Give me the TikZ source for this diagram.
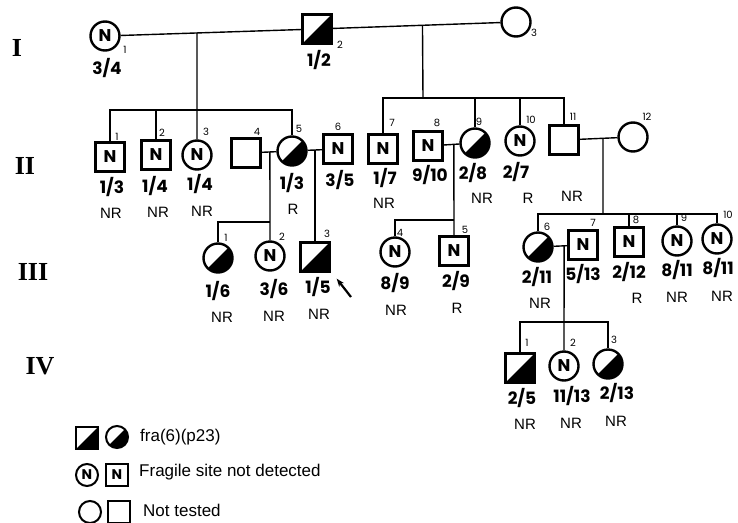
\documentclass[tikz,border=0pt]{standalone}
\usepackage{fontspec}
\setmainfont{Liberation Sans}
\newfontfamily\pedfont{Poppins}
\newfontfamily\genfont{Liberation Serif}
\usetikzlibrary{calc,arrows.meta}

\tikzset{
  person/.style={draw, line width=2.4pt, inner sep=0pt, font=\pedfont\bfseries\fontsize{17}{17}\selectfont},
  male/.style={person, rectangle, minimum size=29pt},
  female/.style={person, circle, minimum size=29pt},
  affected/.style={path picture={\fill (path picture bounding box.south west) -- (path picture bounding box.south east) -- (path picture bounding box.north east) -- cycle;}},
  keysym/.style={line width=2pt, minimum size=22pt, font=\pedfont\bfseries\fontsize{14}{14}\selectfont},
  idnum/.style={inner sep=0pt, font=\pedfont\fontsize{10}{10}\selectfont},
  ratio/.style={inner sep=0pt, font=\pedfont\bfseries\fontsize{17}{17}\selectfont},
  result/.style={inner sep=0pt, font=\fontsize{15}{15}\selectfont},
  gen/.style={inner sep=0pt, font=\genfont\bfseries\fontsize{26}{26}\selectfont},
  keytext/.style={anchor=west, inner sep=0pt, font=\fontsize{17}{17}\selectfont},
  link/.style={line width=1.4pt},
}

\begin{document}
\begin{tikzpicture}[x=1pt, y=-1pt]
  \useasboundingbox (0,0) rectangle (738,522);

  % generation labels
  \node[gen] (gI) at (17,48) {I};
  \node[gen] (gII) at (25,166) {II};
  \node[gen] (gIII) at (33,272) {III};
  \node[gen] (gIV) at (40,366) {IV};

  % generation I
  \node[female] (I1) at (105,36) {N};
  \node[male, affected] (I2) at (317,29) {};
  \node[female] (I3) at (516,22) {};
  \node[idnum] (nI1) at (125,50) {1};
  \node[idnum] (nI2) at (340,45) {2};
  \node[idnum] (nI3) at (534,33) {3};
  \node[ratio] (rI1) at (107,68) {3/4};
  \node[ratio] (rI2) at (319,60) {1/2};

  % generation II
  \node[male] (II1) at (110,157) {N};
  \node[male] (II2) at (156,155) {N};
  \node[female] (II3) at (197,155) {N};
  \node[male] (II4) at (246,153) {};
  \node[female, affected] (II5) at (292,151) {};
  \node[male] (II6) at (338,149) {N};
  \node[male] (II7) at (383,149) {N};
  \node[male] (II8) at (428,146) {N};
  \node[female, affected] (II9) at (475,143) {};
  \node[female] (II10) at (520,141) {N};
  \node[male] (II11) at (564,140) {};
  \node[female] (II12) at (633,137) {};

  \node[idnum] (nII1) at (117,137) {1};
  \node[idnum] (nII2) at (162,133) {2};
  \node[idnum] (nII3) at (206,132) {3};
  \node[idnum] (nII4) at (257,132) {4};
  \node[idnum] (nII5) at (299,129) {5};
  \node[idnum] (nII6) at (338,127) {6};
  \node[idnum] (nII7) at (392,123) {7};
  \node[idnum] (nII8) at (437,123) {8};
  \node[idnum] (nII9) at (479,122) {9};
  \node[idnum] (nII10) at (531,120) {10};
  \node[idnum] (nII11) at (573,117) {11};
  \node[idnum] (nII12) at (647,117) {12};

  \node[ratio] (rII1) at (112,187) {1/3};
  \node[ratio] (rII2) at (155,186) {1/4};
  \node[ratio] (rII3) at (200,184) {1/4};
  \node[ratio] (rII5) at (292,183) {1/3};
  \node[ratio] (rII6) at (340,180) {3/5};
  \node[ratio] (rII7) at (385,178) {1/7};
  \node[ratio] (rII8) at (430,175) {9/10};
  \node[ratio] (rII9) at (473,173) {2/8};
  \node[ratio] (rII10) at (516,172) {2/7};

  \node[result] (tII1) at (111,213) {NR};
  \node[result] (tII2) at (158,212) {NR};
  \node[result] (tII3) at (202,211) {NR};
  \node[result] (tII5) at (293,209) {R};
  \node[result] (tII7) at (384,203) {NR};
  \node[result] (tII9) at (482,198) {NR};
  \node[result] (tII10) at (528,198) {R};
  \node[result] (tII11) at (572,196) {NR};

  % generation III
  \node[female, affected] (III1) at (218,258) {};
  \node[female] (III2) at (270,256) {N};
  \node[male, affected] (III3) at (315,257) {};
  \node[female] (III4) at (395,252) {N};
  \node[male] (III5) at (454,251) {N};
  \node[female, affected] (III6) at (538,247) {};
  \node[male] (III7) at (583,245) {N};
  \node[male] (III8) at (629,242) {N};
  \node[female] (III9) at (677,241) {N};
  \node[female] (III10) at (717,239) {N};

  \node[idnum] (nIII1) at (226,238) {1};
  \node[idnum] (nIII2) at (282,237) {2};
  \node[idnum] (nIII3) at (327,234) {3};
  \node[idnum] (nIII4) at (400,233) {4};
  \node[idnum] (nIII5) at (465,230) {5};
  \node[idnum] (nIII6) at (547,227) {6};
  \node[idnum] (nIII7) at (593,223) {7};
  \node[idnum] (nIII8) at (636,220) {8};
  \node[idnum] (nIII9) at (684,218) {9};
  \node[idnum] (nIII10) at (728,215) {10};

  \node[ratio] (rIII1) at (218,291) {1/6};
  \node[ratio] (rIII2) at (274,289) {3/6};
  \node[ratio] (rIII3) at (318,287) {1/5};
  \node[ratio] (rIII4) at (395,283) {8/9};
  \node[ratio] (rIII5) at (456,281) {2/9};
  \node[ratio] (rIII6) at (537,277) {2/11};
  \node[ratio] (rIII7) at (583,274) {5/13};
  \node[ratio] (rIII8) at (629,272) {2/12};
  \node[ratio] (rIII9) at (677,270) {8/11};
  \node[ratio] (rIII10) at (718,268) {8/11};

  \node[result] (tIII1) at (222,317) {NR};
  \node[result] (tIII2) at (274,316) {NR};
  \node[result] (tIII3) at (319,314) {NR};
  \node[result] (tIII4) at (396,310) {NR};
  \node[result] (tIII5) at (457,308) {R};
  \node[result] (tIII6) at (540,303) {NR};
  \node[result] (tIII8) at (637,298) {R};
  \node[result] (tIII9) at (677,297) {NR};
  \node[result] (tIII10) at (722,296) {NR};

  % generation IV
  \node[male, affected] (IV1) at (520,368) {};
  \node[female] (IV2) at (564,366) {N};
  \node[female, affected] (IV3) at (608,364) {};
  \node[idnum] (nIV1) at (527,343) {1};
  \node[idnum] (nIV2) at (573,343) {2};
  \node[idnum] (nIV3) at (614,340) {3};
  \node[ratio] (rIV1) at (522,398) {2/5};
  \node[ratio] (rIV2) at (572,396) {11/13};
  \node[ratio] (rIV3) at (617,393) {2/13};
  \node[result] (tIV1) at (525,424) {NR};
  \node[result] (tIV2) at (571,423) {NR};
  \node[result] (tIV3) at (616,421) {NR};

  % matings and sibships
  \draw[link] (I1) -- (I2);
  \draw[link] (I2) -- (I3);
  \coordinate (mI12) at ($(I1)!0.434!(I2)$);
  \coordinate (mI23) at ($(I2)!0.53!(I3)$);
  \coordinate (sII1) at (197,110);
  \coordinate (sII2) at (423,98);
  \draw[link] (mI12) -- (II3.north);
  \draw[link] (II1.north) |- (II5.north |- sII1) -- (II5.north);
  \draw[link] (II2.north) -- (II2.north |- sII1);
  \draw[link] (mI23) -- (sII2);
  \draw[link] (II7.north) |- (II11.north |- sII2) -- (II11.north);
  \draw[link] (II9.north) -- (II9.north |- sII2);
  \draw[link] (II10.north) -- (II10.north |- sII2);

  \draw[link] (II4) -- (II5);
  \draw[link] (II5) -- (II6);
  \draw[link] (II8) -- (II9);
  \draw[link] (II11) -- (II12);
  \coordinate (mII45) at ($(II4)!0.52!(II5)$);
  \coordinate (mII56) at ($(II5)!0.5!(II6)$);
  \coordinate (mII89) at ($(II8)!0.55!(II9)$);
  \coordinate (mII1112) at ($(II11)!0.565!(II12)$);
  \coordinate (sIII1) at (270,222);
  \coordinate (sIII2) at (454,220);
  \coordinate (sIII3) at (603,214);
  \draw[link] (mII45) -- (III2.north);
  \draw[link] (III1.north) |- (sIII1);
  \draw[link] (mII56) -- (III3.north);
  \draw[link] (mII89) -- (III5.north);
  \draw[link] (III4.north) |- (sIII2);
  \draw[link] (mII1112) -- (sIII3);
  \draw[link] (III6.north) |- (III10.north |- sIII3) -- (III10.north);
  \draw[link] (III8.north) -- (III8.north |- sIII3);
  \draw[link] (III9.north) -- (III9.north |- sIII3);

  \draw[link] (III6) -- (III7);
  \coordinate (mIII67) at ($(III6)!0.58!(III7)$);
  \coordinate (sIV) at (564,322);
  \draw[link] (mIII67) -- (IV2.north);
  \draw[link] (IV1.north) |- (IV3.north |- sIV) -- (IV3.north);

  % proband
  \coordinate (pIII3) at (351,297);
  \draw[line width=2.2pt, -{Stealth[length=8pt,width=6pt]}] (pIII3) -- ([shift={(6,6)}]III3.south east);

  % key
  \node[male, affected, keysym] (kA1) at (87,438) {};
  \node[female, affected, keysym] (kA2) at (117,437) {};
  \node[keytext] (kA) at (140,437) {fra(6)(p23)};
  \node[female, keysym] (kN1) at (87,475) {N};
  \node[male, keysym] (kN2) at (117,475) {N};
  \node[keytext] (kN) at (139,472) {Fragile site not detected};
  \node[female, keysym] (kT1) at (90,512) {};
  \node[male, keysym] (kT2) at (119,512) {};
  \node[keytext] (kT) at (143,510) {Not tested};
\end{tikzpicture}
\end{document}
